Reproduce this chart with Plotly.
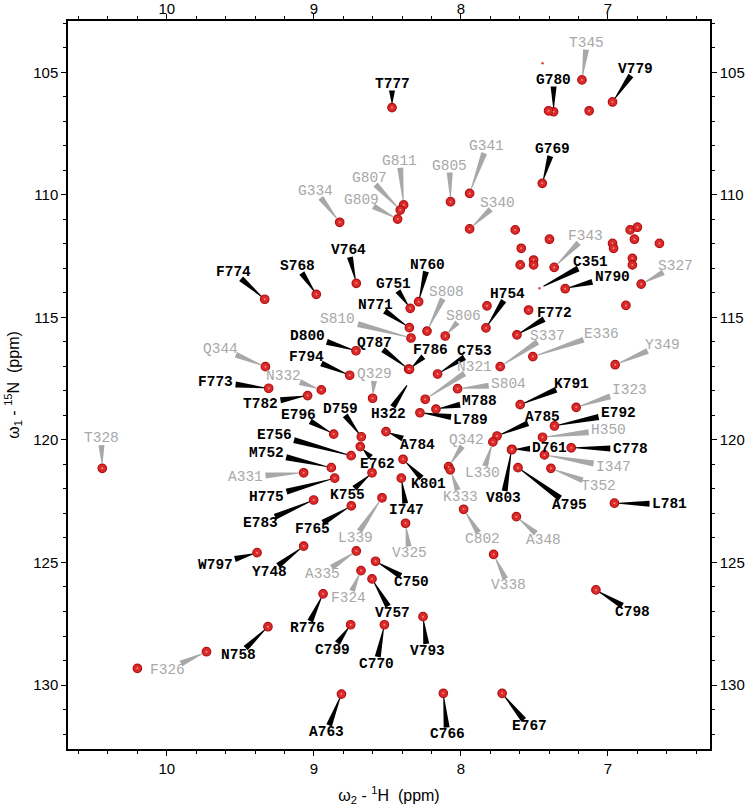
import math
import plotly.graph_objects as go

# ---------------- data ----------------
names = ["T777", "G780", "T345", "V779", "G769", "G805", "G341", "G811", "G807", "G809",
         "G334", "S340", "F343", "C351", "N790", "S327", "F774", "S768", "V764", "N760",
         "G751", "N771", "S810", "S808", "S806", "H754", "F772", "D800", "Q787", "F786",
         "H322", "C753", "F794", "Q329", "N332", "Q344", "F773", "T782", "S337", "E336",
         "Y349", "N321", "S804", "M788", "L789", "K791", "I323", "E792", "A785", "H350",
         "L330", "Q342", "K333", "D761", "V803", "C778", "I347", "A795", "T352", "L781",
         "A348", "C802", "V338", "A784", "K801", "I747", "V325", "C750", "E762", "D759",
         "E796", "E756", "M752", "A331", "H775", "E783", "K755", "F765", "L339", "W797",
         "Y748", "A335", "F324", "V757", "R776", "N758", "F326", "C799", "C770", "V793",
         "C798", "A763", "C766", "E767", "T328"]
h_ppm = [8.468, 7.369, 7.176, 6.968, 7.446, 8.070, 7.940, 8.389, 8.412, 8.430,
         8.824, 7.940, 7.365, 7.465, 7.290, 6.773, 9.334, 8.983, 8.711, 8.287,
         8.344, 8.350, 8.339, 8.230, 8.106, 7.829, 7.618, 8.713, 8.355, 8.349,
         8.349, 8.158, 8.756, 8.600, 8.949, 9.329, 9.307, 9.042, 7.732, 7.510,
         6.950, 8.242, 8.022, 8.169, 8.278, 7.596, 7.215, 7.363, 7.754, 7.444,
         7.782, 8.083, 8.072, 7.652, 7.655, 7.249, 7.431, 7.611, 7.387, 6.955,
         7.622, 7.981, 7.777, 8.509, 8.393, 8.405, 8.376, 8.580, 8.684, 8.677,
         8.865, 8.746, 8.881, 9.069, 8.858, 9.001, 8.604, 8.745, 8.536, 9.386,
         9.069, 8.711, 8.679, 8.604, 8.937, 9.312, 9.730, 8.749, 8.520, 8.257,
         7.081, 8.812, 8.119, 7.719, 10.439]
n_ppm = [106.44, 106.61, 105.31, 106.21, 109.53, 110.28, 109.94, 110.41, 110.62, 110.99,
         111.12, 111.39, 112.96, 113.81, 113.83, 113.64, 114.26, 114.06, 113.61, 114.36,
         114.63, 115.42, 115.84, 115.56, 115.76, 115.43, 115.71, 116.36, 117.11, 117.12,
         117.62, 117.31, 117.36, 118.30, 117.96, 117.01, 117.89, 118.19, 117.01, 116.60,
         116.93, 118.34, 117.91, 118.74, 118.89, 118.56, 118.67, 119.43, 119.84, 119.89,
         120.08, 121.09, 121.22, 120.38, 120.40, 120.32, 120.61, 121.13, 121.16, 122.58,
         123.13, 122.83, 124.67, 119.66, 120.79, 121.56, 123.40, 124.95, 120.27, 119.87,
         119.76, 120.64, 121.13, 121.34, 121.56, 122.45, 121.34, 122.69, 122.36, 124.60,
         124.33, 124.53, 125.33, 125.67, 126.28, 127.62, 128.64, 127.54, 127.54, 127.21,
         126.12, 130.37, 130.34, 130.34, 121.16]
# residues of the second construct (drawn in grey)
grey_names = ["T345", "G805", "G341", "G811", "G807", "G809", "G334", "S340", "F343", "S327",
              "S810", "S808", "S806", "Q329", "N332", "Q344", "S337", "E336", "Y349", "N321",
              "S804", "I323", "H350", "L330", "Q342", "K333", "I347", "T352", "A348", "C802",
              "V338", "V325", "A331", "L339", "A335", "F324", "F326", "T328"]
# assignments whose cross peak is below the contour floor
weak_names = ["H322", "C351"]
# unassigned cross peaks
extra_h = [7.127, 7.403, 7.630, 7.397, 7.589, 6.848, 6.799, 6.819, 6.649, 6.968,
           6.961, 7.596, 7.505, 7.505, 6.833, 6.833, 6.877, 7.822, 7.539, 10.200]
extra_n = [106.57, 106.57, 111.43, 111.81, 112.18, 111.43, 111.32, 111.81, 111.98, 111.98,
           112.18, 112.86, 112.66, 112.86, 112.59, 112.86, 114.51, 114.53, 114.70, 129.32]
faint_h = [7.444, 7.465]
faint_n = [104.63, 113.81]

# ---------------- label layout (pixel offsets label centre - peak) ----------------
label_dx = [0, 0, 5, 23, 10, -1, 17, -4, -31, -36,
            -24, 28, 31, 51, 47, 34, -31, -19, -8, 9,
            -17, -34, -73, 19, 18, 22, 38, -49, -34, 21,
            -21, 37, -43, 2, -38, -45, -53, -47, 47, 69,
            47, 49, 51, 44, 51, 51, 53, 64, 46, 66,
            -10, 18, 10, 38, -8, 59, 69, 51, 48, 55,
            27, 19, 15, 32, 25, 5, 4, 36, 17, -21,
            -35, -77, -65, -58, -68, -53, -25, -39, -27, -42,
            -34, -34, -12, 20, -16, -29, -39, -18, -8, 4,
            37, -15, 4, 27, -1]
label_dy = [-24, -32, -37, -33, -34, -36, -47, -44, -32, -19,
            -31, -26, -31, -26, -12, -18, -27, -28, -33, -37,
            -24, -23, -19, -39, -20, -34, -22, -15, -26, -19,
            32, -23, -18, -24, -14, -18, -6, 8, -31, -23,
            -20, -32, -5, -8, 7, -21, -17, -13, -19, -7,
            31, -27, 27, -1, 48, 1, 12, 37, 18, 1,
            23, 30, 31, 13, 25, 32, 30, 21, 17, -28,
            -19, -21, -15, 4, 19, 23, 22, 23, 40, 12,
            26, 23, 27, 34, 34, 28, 18, 25, 39, 34,
            22, 38, 41, 33, -30]

# ---------------- geometry ----------------
W, H = 745, 806
ML, MR, MT, MB = 68, 35, 21, 57
X_RANGE = [10.672, 6.305]
Y_RANGE = [132.61, 102.866 + (21 - 20) / 24.51]
PXX = (W - ML - MR) / (X_RANGE[0] - X_RANGE[1])
PXY = (H - MT - MB) / (Y_RANGE[0] - Y_RANGE[1])
FS = 14.5
BLACK = "#000000"
GREY = "#a8a8a8"

fig = go.Figure()

shapes = []
annotations = []
for name, hx, ny, dx, dy in zip(names, h_ppm, n_ppm, label_dx, label_dy):
    grey = name in grey_names
    col = GREY if grey else BLACK
    L = math.hypot(dx, dy)
    ux, uy = dx / L, dy / L
    hw = len(name) * 0.6 * FS / 2 + 1.5
    hh = FS * 0.40
    t = min(hw / abs(ux) if abs(ux) > 1e-9 else 1e9, hh / abs(uy) if abs(uy) > 1e-9 else 1e9)
    d_base = L - t - 1.0
    d_tip = 4.5
    if d_base > d_tip + 2:
        px, py = -uy, ux
        wt, wb = 0.5, 3.0
        pts = [(ux * d_tip + px * wt, uy * d_tip + py * wt),
               (ux * d_base + px * wb, uy * d_base + py * wb),
               (ux * d_base - px * wb, uy * d_base - py * wb),
               (ux * d_tip - px * wt, uy * d_tip - py * wt)]
        path = "M " + " L ".join(f"{hx - a / PXX:.5f},{ny + b / PXY:.5f}" for a, b in pts) + " Z"
        shapes.append(dict(type="path", path=path, xref="x", yref="y",
                           fillcolor=col, line=dict(width=0), layer="above"))
    annotations.append(dict(x=hx, y=ny, xref="x", yref="y", xshift=dx, yshift=-dy,
                            text=name, showarrow=False,
                            font=dict(family="Liberation Mono, DejaVu Sans Mono, monospace",
                                      size=FS, color=col,
                                      weight="normal" if grey else "bold")))

peak_h = [h for nm, h in zip(names, h_ppm) if nm not in weak_names] + extra_h
peak_n = [n for nm, n in zip(names, n_ppm) if nm not in weak_names] + extra_n

fig.add_trace(go.Scatter(x=peak_h, y=peak_n, mode="markers",
                         marker=dict(symbol="circle", size=8.5, color="#dc2a2a",
                                     line=dict(color="#b01010", width=1.2)),
                         hoverinfo="skip", showlegend=False))
fig.add_trace(go.Scatter(x=peak_h, y=peak_n, mode="markers",
                         marker=dict(symbol="circle", size=2, color="#f08a8a"),
                         hoverinfo="skip", showlegend=False))
fig.add_trace(go.Scatter(x=faint_h, y=faint_n, mode="markers",
                         marker=dict(symbol="circle", size=2.5, color="#e04040"),
                         hoverinfo="skip", showlegend=False))
fig.add_trace(go.Scatter(x=[None], y=[None], xaxis="x2", yaxis="y2", mode="markers",
                         hoverinfo="skip", showlegend=False))

tickfont = dict(family="Liberation Sans, Arial, sans-serif", size=15, color="black")
titlefont = dict(family="Liberation Sans, Arial, sans-serif", size=16, color="black")
common = dict(showgrid=False, zeroline=False, showline=True, linecolor="black",
              linewidth=1.5, ticks="outside", ticklen=5, tickwidth=1.2, tickcolor="black",
              tickfont=tickfont)
xminor = dict(dtick=0.2, ticks="outside", ticklen=3.5, tickwidth=1, tickcolor="black")
yminor = dict(dtick=1, ticks="outside", ticklen=3.5, tickwidth=1, tickcolor="black")

fig.update_layout(
    width=W, height=H,
    margin=dict(l=ML, r=MR, t=MT, b=MB),
    paper_bgcolor="white", plot_bgcolor="white",
    xaxis=dict(range=X_RANGE, dtick=1, tick0=0, minor=xminor, mirror=True,
               title=dict(text="ω<sub>2</sub> - <sup>1</sup>H  (ppm)", standoff=14,
                          font=titlefont),
               automargin=False, **common),
    yaxis=dict(range=Y_RANGE, dtick=5, tick0=0, minor=yminor, mirror=True,
               title=dict(text="ω<sub>1</sub> - <sup>15</sup>N  (ppm)", standoff=10,
                          font=titlefont),
               automargin=False, **common),
    xaxis2=dict(range=X_RANGE, dtick=1, tick0=0, minor=xminor, overlaying="x", side="top",
                anchor="y", automargin=False, ticklabelstandoff=-6, **common),
    yaxis2=dict(range=Y_RANGE, dtick=5, tick0=0, minor=yminor, overlaying="y", side="right",
                anchor="x", automargin=False, **common),
    shapes=shapes,
    annotations=annotations,
)

fig.write_html("out.html", config={"displayModeBar": False},
               post_script="document.body.style.margin='0px';document.body.style.overflow='hidden';")
